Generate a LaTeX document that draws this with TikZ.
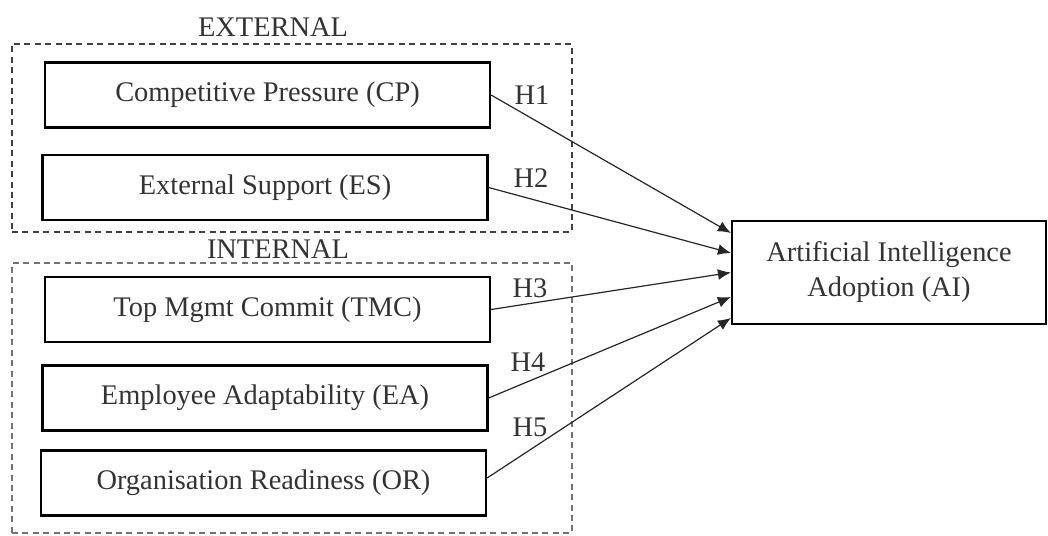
\documentclass[tikz,border=0pt]{standalone}
\usepackage{fontspec}
\setmainfont{Liberation Serif}
\usetikzlibrary{arrows.meta,positioning}

\begin{document}
\begin{tikzpicture}[->,>={Latex[length=6.5pt,width=5.5pt]},x=0.5pt,y=-0.5pt,
  line width=0.6pt]
  \tikzstyle{every node}=[font=\fontsize{14.2}{17.5}\selectfont,text=black!80]
  \tikzstyle{factor}=[draw=black,line width=1.1pt,minimum width=222.5pt,
    minimum height=32.5pt,inner sep=0pt]
  \tikzstyle{outcome}=[factor,minimum width=157pt,minimum height=51.5pt,align=center]
  \tikzstyle{group}=[draw,line width=0.9pt,dash pattern=on 3pt off 2.2pt,
    minimum width=280pt,inner sep=0pt]
  \tikzstyle{hyp}=[inner sep=1pt]

  \useasboundingbox (0,0) rectangle (1048,535);

  % groups
  \node[group,draw=black!75,minimum height=94pt]  (EXT) at (292,138) {};
  \node[group,draw=black!55,minimum height=135pt] (INT) at (292,398) {};
  \node (EXTlabel) at (273,27)  {EXTERNAL};
  \node (INTlabel) at (278,249) {INTERNAL};

  % factors
  \node[factor] (CP)  at (267.5,95)  {Competitive Pressure (CP)};
  \node[factor] (ES)  at (265,187.5) {External Support (ES)};
  \node[factor] (TMC) at (267.5,309.5) {Top Mgmt Commit (TMC)};
  \node[factor] (EA)  at (265,398)   {Employee Adaptability (EA)};
  \node[factor] (OR)  at (263.5,483) {Organisation Readiness (OR)};

  \node[outcome] (AI) at (889,272.5) {Artificial Intelligence\\Adoption (AI)};

  % hypotheses
  \draw[black!85] (CP.east)  -- ([yshift=19.75pt]AI.west);
  \draw[black!85] (ES.east)  -- ([yshift=9.75pt]AI.west);
  \draw[black!85] (TMC.east) -- (AI.west);
  \draw[black!85] (EA.east)  -- ([yshift=-12.25pt]AI.west);
  \draw[black!85] ([yshift=2.5pt]OR.east) -- ([yshift=-22.75pt]AI.west);

  \node[hyp] (H1) at (532,95)  {H1};
  \node[hyp] (H2) at (531,178) {H2};
  \node[hyp] (H3) at (530,288) {H3};
  \node[hyp] (H4) at (528,362) {H4};
  \node[hyp] (H5) at (530,427) {H5};
\end{tikzpicture}
\end{document}
